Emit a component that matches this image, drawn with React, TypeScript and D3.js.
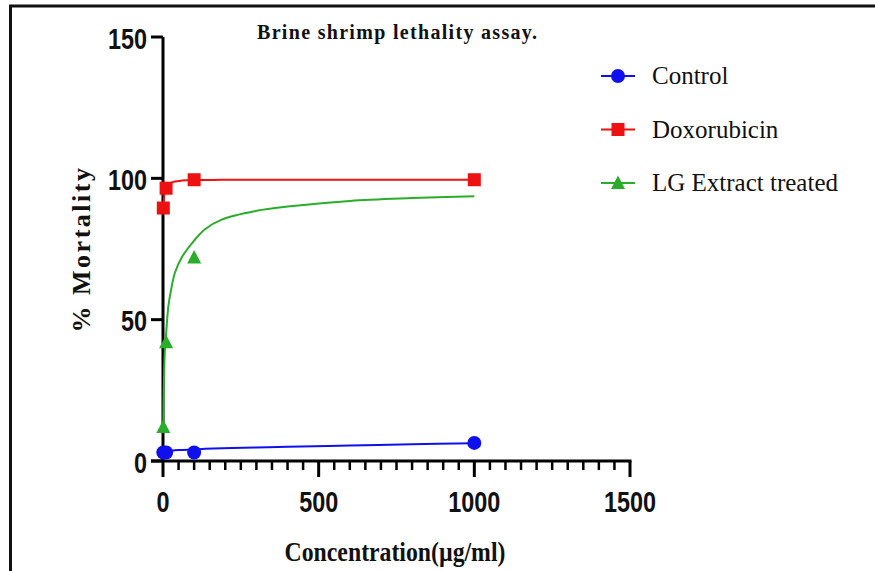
import React from 'react';
import * as d3 from 'd3';

// Measured points
const concentrations = [1, 10, 100, 1000];
const controlValues = [3, 3, 3, 6.4];
const doxValues = [89.5, 96.5, 99.5, 99.5];
const lgConcentrations = [1, 10, 100];
const lgValues = [12, 42, 72];

// Fitted curves
const fitConcentrations = [1, 2, 4, 6, 10, 17, 25, 38, 60, 100, 135, 190, 300, 400, 600, 800, 1000];
const controlFit = [3.3, 3.3, 3.4, 3.4, 3.5, 3.6, 3.7, 3.8, 3.9, 4.1, 4.3, 4.5, 4.8, 5.0, 5.5, 5.9, 6.3];
const doxFit = [89.5, 91.5, 94, 95.5, 96.8, 97.8, 98.4, 98.9, 99.2, 99.4, 99.4, 99.5, 99.5, 99.5, 99.5, 99.5, 99.5];
const lgFit = [12, 22, 33, 39, 45, 54.5, 60, 66.5, 72, 78, 82, 85.5, 88.5, 90, 92, 93, 93.7];

const xTicks = [0, 500, 1000, 1500];
const yTicks = [0, 50, 100, 150];
const legendLabels = ['Control', 'Doxorubicin', 'LG Extract treated'];

const BLUE = '#1010ee';
const RED = '#ee1111';
const GREEN = '#2aad2a';

const width = 875;
const height = 571;

const x = d3.scaleLinear().domain([0, 1500]).range([163, 630]);
const y = d3.scaleLinear().domain([0, 150]).range([461, 37]);

const numFont = '"Liberation Sans", Arial, sans-serif';
const serif = '"Liberation Serif", "Times New Roman", serif';
const squeeze = 0.78; // tick numbers are set in a narrow face

const line = d3
  .line<[number, number]>()
  .x((d) => x(d[0]))
  .y((d) => y(d[1]))
  .curve(d3.curveCatmullRom.alpha(0.5));

const Marker = ({ shape, cx, cy, color }: { shape: string; cx: number; cy: number; color: string }) => {
  if (shape === 'circle') return <circle cx={cx} cy={cy} r={7} fill={color} />;
  if (shape === 'square') return <rect x={cx - 6.5} y={cy - 6.5} width={13} height={13} fill={color} />;
  return <path d={`M${cx},${cy - 7.5} L${cx + 7},${cy + 6} L${cx - 7},${cy + 6} Z`} fill={color} />;
};

const NarrowNum = ({ px, py, anchor, value }: { px: number; py: number; anchor: string; value: number }) => (
  <text
    transform={`translate(${px},${py}) scale(${squeeze},1)`}
    dy="0.36em"
    textAnchor={anchor}
    fontFamily={numFont}
    fontWeight="bold"
    fontSize={30}
    fill="#111"
  >
    {value}
  </text>
);

const App = () => {
  const minorTicks = d3.range(0, 1501, 50).filter((v) => v % 500 !== 0);
  const series = [
    { fit: controlFit, conc: concentrations, vals: controlValues, color: BLUE, shape: 'circle' },
    { fit: doxFit, conc: concentrations, vals: doxValues, color: RED, shape: 'square' },
    { fit: lgFit, conc: lgConcentrations, vals: lgValues, color: GREEN, shape: 'triangle' },
  ];

  return (
    <svg width={width} height={height} style={{ position: 'absolute', left: 0, top: 0, background: '#fff' }}>
      {/* frame */}
      <line x1={9} y1={6} x2={width} y2={6} stroke="#111" strokeWidth={3} />
      <line x1={10.5} y1={5} x2={10.5} y2={height} stroke="#111" strokeWidth={3} />

      {/* title */}
      <text
        x={257}
        y={39}
        textLength={280}
        lengthAdjust="spacing"
        fontFamily={serif}
        fontWeight="bold"
        fontSize={20}
        fill="#111"
      >
        Brine shrimp lethality assay.
      </text>

      {/* y axis */}
      <line x1={x(0)} y1={y(150)} x2={x(0)} y2={y(0)} stroke="#000" strokeWidth={3} />
      {yTicks.map((t) => (
        <g key={t}>
          <line x1={x(0) - 12} y1={y(t)} x2={x(0)} y2={y(t)} stroke="#000" strokeWidth={3} />
          <NarrowNum px={x(0) - 16} py={y(t) + 1} anchor="end" value={t} />
        </g>
      ))}

      {/* x axis */}
      <line x1={x(0) - 12} y1={y(0)} x2={x(1500) + 1.5} y2={y(0)} stroke="#000" strokeWidth={3} />
      {minorTicks.map((t) => (
        <line key={t} x1={x(t)} y1={y(0)} x2={x(t)} y2={y(0) + 9} stroke="#000" strokeWidth={2.5} />
      ))}
      {xTicks.map((t) => (
        <g key={t}>
          <line x1={x(t)} y1={y(0)} x2={x(t)} y2={y(0) + 16} stroke="#000" strokeWidth={3} />
          <NarrowNum px={x(t)} py={501} anchor="middle" value={t} />
        </g>
      ))}

      {/* axis titles */}
      <text
        transform="translate(395,551) scale(0.88,1)"
        dy="0.36em"
        textAnchor="middle"
        fontFamily={serif}
        fontWeight="bold"
        fontSize={27}
        fill="#111"
      >
        Concentration(µg/ml)
      </text>
      <text
        transform="translate(90,249) rotate(-90)"
        textAnchor="middle"
        fontFamily={serif}
        fontWeight="bold"
        fontSize={26}
        letterSpacing={2.5}
        fill="#111"
      >
        % Mortality
      </text>

      {/* series */}
      {series.map((s, i) => (
        <g key={i}>
          <path
            d={line(fitConcentrations.map((c, j) => [c, s.fit[j]] as [number, number])) || ''}
            fill="none"
            stroke={s.color}
            strokeWidth={2}
          />
          {s.conc.map((c, j) => (
            <Marker key={j} shape={s.shape} cx={x(c)} cy={y(s.vals[j])} color={s.color} />
          ))}
        </g>
      ))}

      {/* legend */}
      {legendLabels.map((label, i) => {
        const ly = 76 + i * 53.5;
        const s = series[i];
        return (
          <g key={label}>
            <line x1={601} y1={ly} x2={635} y2={ly} stroke={s.color} strokeWidth={2} />
            <Marker shape={s.shape} cx={618} cy={ly} color={s.color} />
            <text x={652} y={ly} dy="0.33em" fontFamily={serif} fontSize={25} fill="#111">
              {label}
            </text>
          </g>
        );
      })}
    </svg>
  );
};

export default App;
